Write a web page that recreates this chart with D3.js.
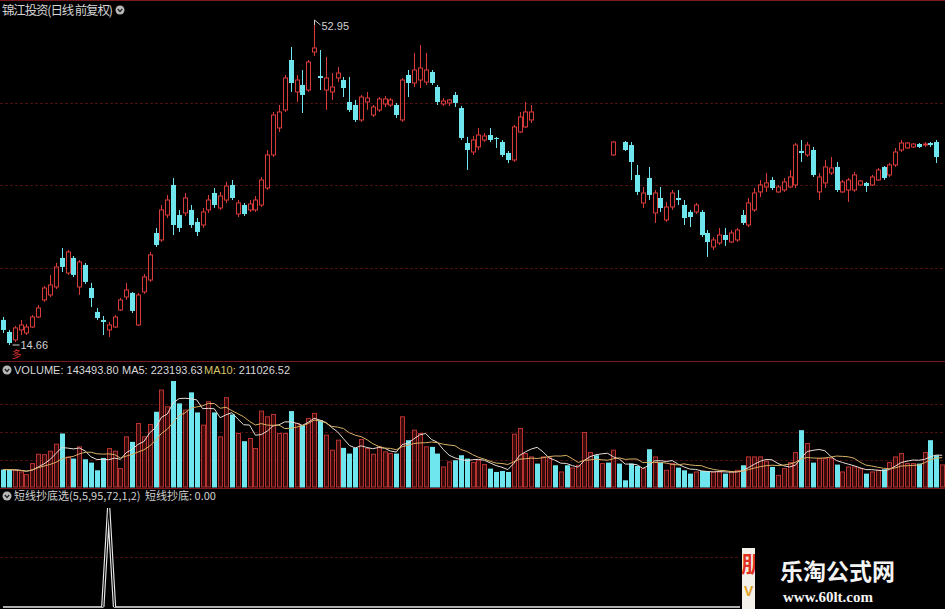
<!DOCTYPE html>
<html><head><meta charset="utf-8">
<script src="https://cdn.jsdelivr.net/npm/d3@7"></script>
<style>html,body{margin:0;padding:0;background:#000;overflow:hidden}svg{display:block}</style>
</head><body><svg id="c" width="945" height="609"></svg>
<script>
// ---- data ----
const title = "锦江投资(日线 前复权)";
const openP = [17.64,16.21,15.26,16.45,16.09,16.80,17.99,20.02,20.61,21.56,25.01,23.22,25.01,21.56,24.18,21.44,18.59,17.64,16.45,16.80,18.83,20.37,20.85,17.04,20.97,22.39,27.98,27.15,30.12,33.69,30.12,30.36,30.72,29.29,28.93,30.72,32.74,30.95,31.90,33.69,30.24,31.31,30.72,30.72,31.31,33.33,37.26,40.47,42.61,48.55,44.75,45.58,44.98,49.50,46.65,44.98,44.75,46.41,46.17,43.56,43.20,41.42,43.56,42.01,42.61,43.32,43.20,43.20,41.42,46.77,45.82,46.17,45.93,47.12,45.34,43.32,43.44,44.39,42.84,38.68,37.61,38.21,39.04,39.63,39.28,38.80,37.49,36.66,39.99,40.59,41.42,null,null,null,null,null,null,null,null,null,null,null,null,null,37.26,null,38.80,38.44,34.88,31.55,34.52,30.36,32.14,29.53,31.07,32.14,31.31,30.48,30.48,30.48,27.98,26.32,26.79,27.74,26.91,27.15,30.12,28.93,30.72,32.86,33.45,34.28,32.86,33.09,33.45,33.69,37.73,37.26,37.85,32.86,33.93,35.12,35.83,32.86,33.09,33.09,33.69,33.93,33.69,34.28,35.83,34.88,36.07,37.85,38.09,38.21,38.56,38.44,38.68,38.80,null];
const closeP = [16.45,14.90,16.69,17.04,16.80,17.99,19.06,21.44,21.80,23.94,23.94,25.72,22.99,24.53,22.16,20.25,17.87,17.40,17.04,17.99,20.02,21.20,18.71,20.61,22.75,25.37,26.55,30.72,31.90,28.93,28.58,32.14,28.93,28.10,30.48,31.90,31.31,32.38,33.57,32.14,31.55,30.24,31.43,31.90,34.28,37.26,42.01,42.37,46.41,45.82,46.17,44.39,48.31,49.98,46.41,46.41,45.34,47.00,45.22,42.61,41.42,44.15,44.03,42.96,43.91,43.91,43.80,42.01,46.17,45.82,47.36,47.60,47.36,45.82,43.56,43.68,43.80,43.44,39.28,37.85,39.04,39.63,39.51,39.04,39.16,37.26,36.66,40.59,41.77,42.37,42.37,null,null,null,null,null,null,null,null,null,null,null,null,null,38.80,null,37.85,36.42,32.86,32.74,32.50,32.74,30.95,31.07,32.74,31.90,29.76,29.88,31.31,27.74,26.91,27.15,27.74,27.15,27.98,28.34,29.17,31.55,32.74,33.69,33.93,33.33,33.45,34.05,34.64,38.44,37.49,38.44,34.88,34.64,35.83,35.71,33.09,34.05,34.28,34.88,34.17,33.57,34.64,35.47,34.52,36.07,37.61,38.68,38.68,38.56,38.21,38.56,38.44,37.02,null];
const highP = [17.99,16.45,16.92,17.64,17.16,18.23,19.42,21.68,22.99,24.41,26.20,25.96,25.25,24.77,24.41,22.04,19.06,18.11,17.40,18.23,20.25,22.04,20.97,20.85,23.11,25.72,28.58,31.31,32.50,34.52,30.72,32.74,31.31,29.76,30.95,32.50,33.33,32.86,34.05,34.28,31.90,31.55,31.90,32.38,34.64,37.85,42.37,43.20,46.77,50.10,46.77,47.36,48.55,52.95,49.74,48.91,47.00,47.72,46.53,46.53,43.80,44.39,44.75,43.20,44.15,44.27,44.03,43.44,46.41,47.36,49.39,50.33,49.39,47.36,45.58,44.03,43.91,44.75,43.08,39.40,39.51,40.47,39.87,40.47,39.40,39.04,37.73,40.82,42.37,43.56,43.20,null,null,null,null,null,null,null,null,null,null,null,null,null,38.92,null,38.92,38.80,36.07,33.45,35.83,33.09,33.45,31.67,33.09,33.09,31.90,30.72,31.55,30.72,28.34,27.50,28.58,28.58,28.34,28.58,30.72,32.14,33.33,34.28,35.12,34.64,33.69,34.52,35.47,38.68,39.04,38.80,38.21,35.12,36.66,37.02,36.42,34.28,34.52,35.23,34.28,34.05,34.88,35.71,35.95,36.30,38.09,39.04,38.80,38.68,38.68,38.80,38.80,39.04,null];
const lowP = [16.09,14.66,15.02,15.85,15.85,16.69,17.87,19.78,20.37,21.32,23.34,22.99,22.75,20.61,21.92,19.18,17.64,15.85,15.62,16.69,18.71,20.02,18.47,16.92,20.73,22.16,26.32,26.91,29.76,27.74,28.10,30.00,28.58,27.62,28.58,30.36,30.95,30.72,31.55,31.90,29.88,30.00,30.48,30.48,31.07,33.09,37.02,39.99,42.37,44.75,43.56,42.25,44.75,49.03,44.98,42.61,43.80,45.93,44.15,42.37,41.18,41.18,42.61,41.77,42.37,42.96,42.96,41.66,41.18,44.15,45.34,45.22,45.58,45.58,43.20,43.08,43.08,42.96,39.04,35.47,37.26,37.85,38.80,38.80,38.09,37.02,36.30,36.42,39.87,40.47,41.06,null,null,null,null,null,null,null,null,null,null,null,null,null,37.14,null,37.73,34.28,32.50,30.95,31.90,29.17,30.48,29.29,30.72,31.31,28.93,28.69,30.24,27.50,25.13,25.96,26.55,26.44,26.79,26.91,28.93,28.69,30.48,32.26,32.86,33.09,32.74,32.86,33.33,33.33,36.42,37.02,34.64,31.90,33.33,34.88,32.86,32.74,31.67,32.86,33.57,32.86,33.57,34.17,34.28,34.64,35.83,37.61,37.97,38.09,38.09,38.21,38.21,36.30,null];
const volume = [113000,113000,108650,97790,80400,152100,212950,210000,232500,278150,347700,195570,184700,260760,180360,158630,108650,189050,249900,232500,119500,325950,293350,412870,325950,406350,488900,630170,521500,688840,543250,499800,614960,484580,402000,554100,484580,325950,580200,471540,347700,297700,315085,249900,493270,456330,471540,347700,347700,493270,412870,402000,445470,478060,434600,336800,239000,304200,254240,217300,254240,308570,249900,212950,260760,228170,217300,217300,456330,304200,369400,347700,260760,260760,217300,130400,163000,173840,206400,184700,158630,173840,145600,119500,97790,104300,97790,343300,380300,217300,195570,152100,195570,189050,141250,97790,141250,123860,141250,354200,223800,206400,152100,158630,239000,152100,43460,152100,136900,119500,245550,195570,158630,108650,152100,126000,108650,86900,97790,104300,104300,97790,97790,86900,97790,108650,141250,195570,195570,195570,167300,130400,76050,119500,158630,223800,369400,282490,158630,184700,184700,184700,145600,97790,130400,130400,119500,86900,97790,108650,115170,158630,195570,217300,152100,152100,152100,223800,304200,206400,143494];
const volUp = [0,0,1,1,1,1,1,1,1,1,0,1,0,1,0,0,0,0,1,1,1,1,0,1,1,1,0,1,1,0,0,1,0,0,1,1,0,1,1,0,1,0,1,1,1,1,1,1,1,0,1,0,1,1,0,1,1,1,0,0,0,1,1,1,1,1,1,0,1,0,1,1,1,0,0,1,1,0,0,0,1,1,1,0,0,0,0,1,1,1,1,0,1,1,0,1,0,1,1,1,1,0,1,0,1,0,0,0,0,1,0,1,0,1,1,0,0,0,1,0,0,1,1,0,1,1,0,1,1,1,1,0,1,1,1,1,0,1,0,1,1,1,0,1,1,1,1,0,1,1,0,1,1,1,1,1,0,1,0,0,1];
const sigIdx = [0,17,18,19,160];
const sigVal = [0,0,1,0,0];
const highLabel = "52.95", lowLabel = "14.66";
const volLabels = ["VOLUME: 143493.80", "MA5: 223193.63", "MA10: 211026.52"];
const indName = "短线抄底选(5,5,95,72,1,2)", indValue = "短线抄底: 0.00";

// ---- layout ----
const W = 945, H = 609;
const RED = "#d93a3a", CYAN = "#6fe6ee", GRID = "#4a0f0f", SEP = "#7a1a1a";
const svg = d3.select("#c");
svg.append("rect").attr("width",W).attr("height",H).attr("fill","#000");

const N = volume.length;
const x = d3.scaleLinear().domain([0, N-1]).range([3, 3 + 5.87*(N-1)]);
const yP = d3.scaleLinear().domain([14.66, 52.95]).range([345, 23]);
const yV = d3.scaleLinear().domain([0, d3.max(volume)]).range([487, 381]);
const yI = d3.scaleLinear().domain([0, 1]).range([607, 508]);

// panel frames & grids
svg.append("line").attr("x1",0).attr("x2",W).attr("y1",0.5).attr("y2",0.5).attr("stroke",SEP);
const gridG = svg.append("g").attr("stroke",GRID).attr("stroke-dasharray","3,2");
[0.25,0.5,0.75].forEach(f => { const yy = Math.round(20 + f*330)+0.5; gridG.append("line").attr("x1",0).attr("x2",W).attr("y1",yy).attr("y2",yy); });
[0.25,0.5,0.75].forEach(f => { const yy = Math.round(376 + f*112)+0.5; gridG.append("line").attr("x1",0).attr("x2",W).attr("y1",yy).attr("y2",yy); });
gridG.append("line").attr("x1",0).attr("x2",W).attr("y1",557.5).attr("y2",557.5);
svg.append("line").attr("x1",0).attr("x2",W).attr("y1",361.5).attr("y2",361.5).attr("stroke",SEP);
svg.append("line").attr("x1",0).attr("x2",W).attr("y1",488.5).attr("y2",488.5).attr("stroke",SEP);

// candles
const candles = d3.range(N).filter(i => openP[i] != null);
const cg = svg.append("g");
candles.forEach(i => {
  const cx = Math.round(x(i)) + 0.5;
  const o = yP(openP[i]), c = yP(closeP[i]), h = yP(highP[i]), l = yP(lowP[i]);
  const up = closeP[i] >= openP[i];
  const col = up ? RED : CYAN;
  const top = Math.min(o,c), bot = Math.max(o,c);
  if (up) {
    cg.append("line").attr("x1",cx).attr("x2",cx).attr("y1",h).attr("y2",top).attr("stroke",col);
    cg.append("line").attr("x1",cx).attr("x2",cx).attr("y1",bot).attr("y2",l).attr("stroke",col);
    if (bot - top < 1) cg.append("line").attr("x1",cx-2).attr("x2",cx+2).attr("y1",top).attr("y2",top).attr("stroke",col);
    else cg.append("rect").attr("x",cx-2).attr("y",top).attr("width",4).attr("height",bot-top).attr("fill","none").attr("stroke",col);
  } else {
    cg.append("line").attr("x1",cx).attr("x2",cx).attr("y1",h).attr("y2",l).attr("stroke",col);
    cg.append("rect").attr("x",cx-2.5).attr("y",top).attr("width",5).attr("height",Math.max(1,bot-top)).attr("fill",col);
  }
});

// high / low labels
const iHigh = d3.maxIndex(highP.map(v => v == null ? -Infinity : v));
const iLow = d3.minIndex(lowP.map(v => v == null ? Infinity : v));
const hx = Math.round(x(iHigh)) + 0.5, hy = yP(highP[iHigh]);
svg.append("path").attr("d",`M${hx},${hy+2}L${hx},${hy-3}L${hx+6},${hy+2}`).attr("stroke","#cfcfcf").attr("fill","none");
svg.append("text").attr("x",hx+7).attr("y",hy+7).text(highLabel).attr("fill","#d0d0d0").attr("font-family","Liberation Sans, Arial").attr("font-size",11);
const lx = Math.round(x(iLow)) + 0.5, ly = yP(lowP[iLow]);
svg.append("line").attr("x1",lx+3).attr("x2",lx+10).attr("y1",ly).attr("y2",ly).attr("stroke","#cfcfcf");
svg.append("text").attr("x",lx+11).attr("y",ly+4).text(lowLabel).attr("fill","#d0d0d0").attr("font-family","Liberation Sans, Arial").attr("font-size",11);
svg.append("text").attr("x",lx+2).attr("y",ly+13).text("多").attr("fill","#d03030").attr("font-family","Noto Sans CJK SC").attr("font-size",10);

// volume bars
const vg = svg.append("g");
d3.range(N).forEach(i => {
  const cx = Math.round(x(i)) + 0.5;
  const t = yV(volume[i]);
  if (volUp[i]) vg.append("rect").attr("x",cx-2).attr("y",t).attr("width",4).attr("height",487-t).attr("fill","#3a0b0b").attr("stroke","#b83232");
  else vg.append("rect").attr("x",cx-2.5).attr("y",t).attr("width",5).attr("height",487.5-t).attr("fill",CYAN);
});
// MA lines
function ma(n){ return volume.map((v,i) => d3.mean(volume.slice(Math.max(0,i-n+1), i+1))); }
const ma5 = ma(5), ma10 = ma(10);
const lineV = d3.line().x((d,i) => x(i)).y(d => yV(d));
svg.append("path").attr("d",lineV(ma5)).attr("fill","none").attr("stroke","#e8dcd4").attr("stroke-width",1);
svg.append("path").attr("d",lineV(ma10)).attr("fill","none").attr("stroke","#d6b064").attr("stroke-width",1);

// indicator: flat part single stroke, spike part drawn as a double stroke like the reference
const lineI = d3.line().x(d => x(d[0])).y(d => yI(d[1]));
const sigPts = sigIdx.map((d,k)=>[d,sigVal[k]]);
svg.append("path").attr("d",lineI(sigPts)).attr("fill","none").attr("stroke","#e8e8e8").attr("stroke-width",1.6);
const spike = sigPts.filter((p,k) => k > 0 && k < sigPts.length - 1);
const spikeG = svg.append("g");
spikeG.append("path").attr("d",lineI(spike)).attr("fill","none").attr("stroke","#e8e8e8").attr("stroke-width",3.4).attr("stroke-linejoin","bevel");
spikeG.append("path").attr("d",lineI(spike)).attr("fill","none").attr("stroke","#000").attr("stroke-width",1.1).attr("stroke-linejoin","bevel");

// headers
function icon(cx, cy){
  svg.append("circle").attr("cx",cx).attr("cy",cy).attr("r",4.5).attr("fill","#b8b8b8");
  svg.append("path").attr("d",`M${cx-2.2},${cy-1}L${cx},${cy+1.5}L${cx+2.2},${cy-1}`).attr("stroke","#222").attr("stroke-width",1.3).attr("fill","none");
}
svg.append("text").attr("x",2).attr("y",15).text(title).attr("fill","#d4d4d4").attr("font-family","Noto Sans CJK SC").attr("font-size",12.5).attr("textLength",111).attr("xml:space","preserve");
icon(120, 10);
icon(7, 370);
const vx = [14, 122, 204];
volLabels.forEach((d,k) => {
  const t = svg.append("text").attr("x",vx[k]).attr("y",374).attr("font-family","Liberation Sans, Arial").attr("font-size",11).attr("fill","#d8d8d8");
  const parts = d.split(": ");
  t.append("tspan").attr("fill", k === 2 ? "#d6c36a" : "#d8d8d8").text(parts[0] + ": ");
  t.append("tspan").text(parts[1]);
});
icon(7, 496);
svg.append("text").attr("x",14).attr("y",500).text(indName).attr("fill","#d0d0d0").attr("font-family","Noto Sans CJK SC").attr("font-size",11);
svg.append("text").attr("x",145).attr("y",500).text(indValue).attr("fill","#d0d0d0").attr("font-family","Noto Sans CJK SC").attr("font-size",11);

// watermark
const defs = svg.append("defs");
defs.append("clipPath").attr("id","wm").append("rect").attr("x",742).attr("y",548).attr("width",13).attr("height",61);
svg.append("rect").attr("x",740).attr("y",543).attr("width",205).attr("height",66).attr("fill","#000");
svg.append("rect").attr("x",742).attr("y",548).attr("width",13).attr("height",61).attr("fill","#f4f0ea");
svg.append("text").attr("x",741).attr("y",572).text("朋").attr("fill","#e03020").attr("font-family","Noto Sans CJK SC").attr("font-weight","bold").attr("font-size",22).attr("clip-path","url(#wm)");
svg.append("text").attr("x",744).attr("y",596).text("V").attr("fill","#e0a020").attr("font-family","Liberation Sans").attr("font-weight","bold").attr("font-size",14);
svg.append("text").attr("x",780).attr("y",580).text("乐淘公式网").attr("fill","#f4f4f4").attr("font-family","Noto Sans CJK SC").attr("font-weight","bold").attr("font-size",23);
svg.append("text").attr("x",783).attr("y",602).text("www.60lt.com").attr("fill","#f4f4f4").attr("font-family","Liberation Serif").attr("font-weight","bold").attr("font-size",15);
</script></body></html>
